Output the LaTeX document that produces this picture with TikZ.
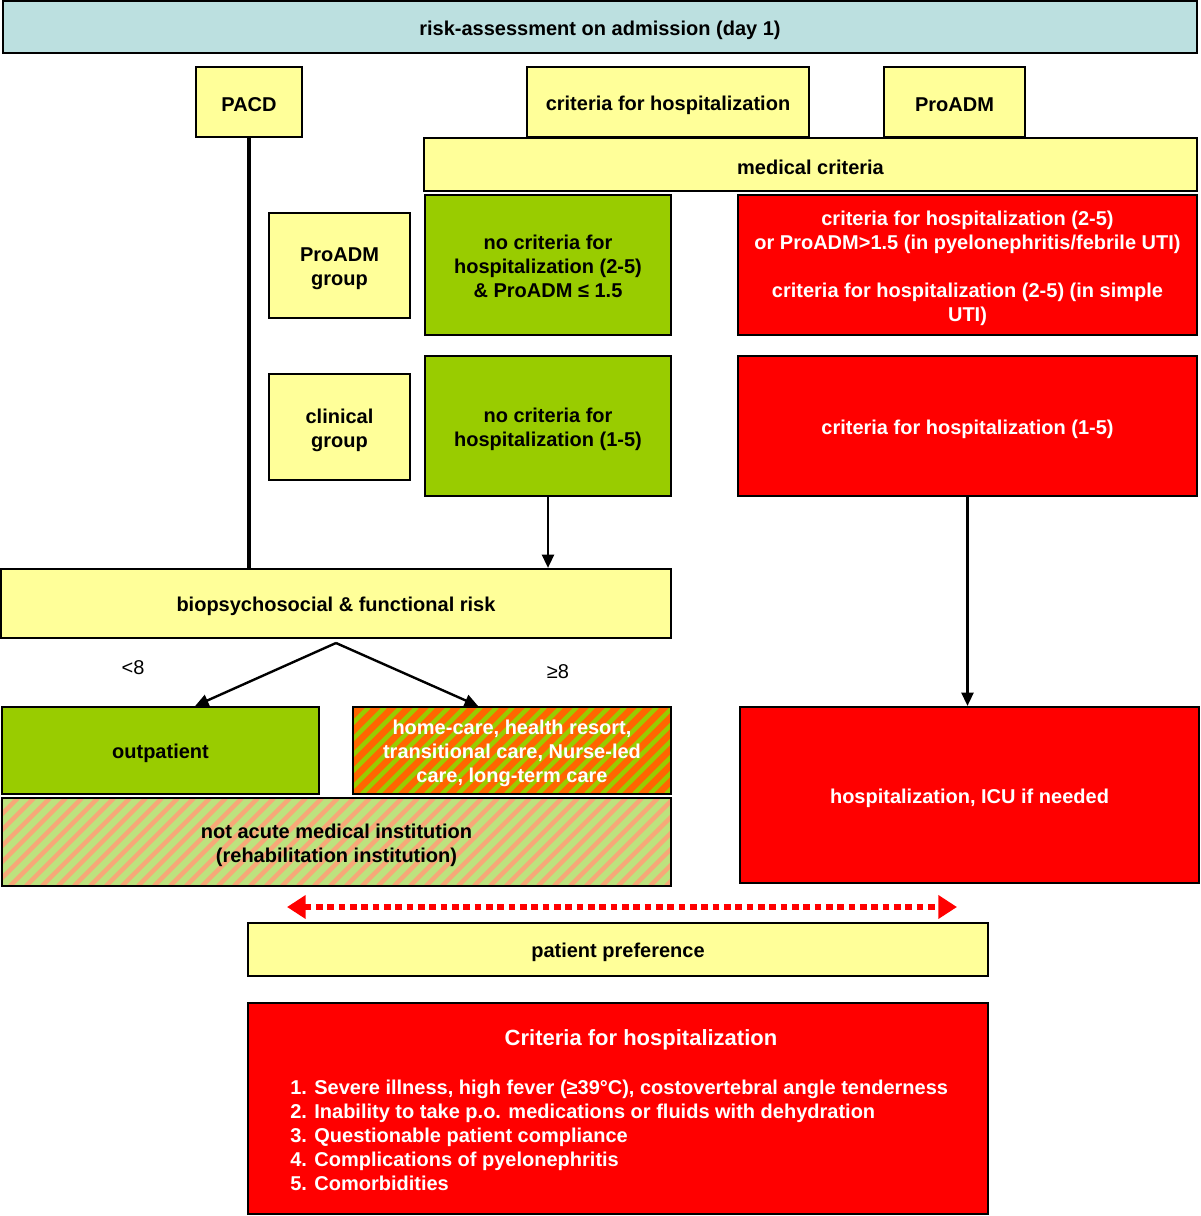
\documentclass[tikz,border=0pt]{standalone}
\usepackage{fontspec}
\setmainfont{Liberation Sans}
\usetikzlibrary{arrows.meta,calc}
\definecolor{cyanbg}{HTML}{BCE0E0}
\definecolor{ylw}{HTML}{FFFF99}
\definecolor{grn}{HTML}{99CC00}
\definecolor{rd}{HTML}{FF0000}
\definecolor{orng}{HTML}{FF6600}
\definecolor{lgrn}{HTML}{BDE27E}
\definecolor{salmon}{HTML}{F7A878}
\tikzset{
  box/.style={draw=black, line width=1.6pt},
  ybox/.style={box, fill=ylw},
  cbox/.style={box, fill=cyanbg},
  gbox/.style={box, fill=grn},
  rbox/.style={box, fill=rd},
  hbox/.style={box, fill=none},
  txt/.style={align=center, inner sep=0pt, text=black,
    font=\fontsize{15}{18}\selectfont\bfseries},
  wtxt/.style={txt, text=white},
  arr/.style={line width=1.8pt, -{Triangle[length=10pt,width=9pt]}},
  lbl/.style={font=\fontsize{15}{18}\selectfont, inner sep=0pt},
  dotarr/.style={rd, line width=4.5pt, dash pattern=on 5pt off 3.5pt,
    {Triangle[length=14pt,width=17pt]}-{Triangle[length=14pt,width=17pt]}},
}
% #1 name, #2-#5 corners (px), #6 box style, #7 text style, #8 text
\newcommand\bx[8]{%
  \node[#6, minimum width={(#4-#2)*0.75pt}, minimum height={(#5-#3)*0.75pt}] (#1) at ({(#2+#4)/2},{(#3+#5)/2}) {};
  \node[#7] (#1-t) at ([yshift=-2.2pt]#1.center) {#8};}
\begin{document}
\begin{tikzpicture}[x=0.75pt, y=-0.75pt]
\useasboundingbox (0,0) rectangle (1200,1216);
% top
\bx{risk}{3}{1}{1197}{53}{cbox}{txt}{risk-assessment on admission (day 1)}
\bx{pacd}{196}{67}{302}{137}{ybox}{txt}{PACD}
\bx{crith}{527}{67}{809}{137}{ybox}{txt}{criteria for hospitalization}
\bx{proadm}{884}{67}{1025}{137}{ybox}{txt}{ProADM}
\bx{med}{424}{138}{1197}{191}{ybox}{txt}{medical criteria}
% groups
\bx{pgroup}{269}{213}{410}{318}{ybox}{txt}{ProADM\\group}
\bx{cgroup}{269}{374}{410}{480}{ybox}{txt}{clinical\\group}
\bx{g1}{425}{195}{671}{335}{gbox}{txt, yshift=1.2pt}{no criteria for\\hospitalization (2-5)\\\& ProADM ≤ 1.5}
\bx{g2}{425}{356}{671}{496}{gbox}{txt}{no criteria for\\hospitalization (1-5)}
\bx{r1}{738}{195}{1197}{335}{rbox}{wtxt}{criteria for hospitalization (2-5)\\or ProADM>1.5 (in pyelonephritis/febrile UTI)\\[18pt]criteria for hospitalization (2-5) (in simple\\UTI)}
\bx{r2}{738}{356}{1197}{496}{rbox}{wtxt}{criteria for hospitalization (1-5)}
% biopsychosocial
\bx{bio}{1}{569}{671}{638}{ybox}{txt}{biopsychosocial \& functional risk}
\bx{outp}{2}{707}{319}{794}{gbox}{txt}{outpatient}
% hatched home-care box
\fill[orng] (353,707) rectangle (671,794);
\begin{scope}
  \clip (353,707) rectangle (671,794);
  \foreach \i in {0,...,30} {\draw[grn, line width=3.3pt] ({353-87+\i*16},794) -- ++(87,-87);}
\end{scope}
\bx{home}{353}{707}{671}{794}{hbox}{wtxt}{home-care, health resort,\\transitional care, Nurse-led\\care, long-term care}
% hatched rehabilitation box
\fill[lgrn] (2,798) rectangle (671,886);
\begin{scope}
  \clip (2,798) rectangle (671,886);
  \foreach \i in {0,...,50} {\draw[salmon, line width=3.3pt] ({2-88+\i*16},886) -- ++(88,-88);}
\end{scope}
\bx{rehab}{2}{798}{671}{886}{hbox}{txt}{not acute medical institution\\(rehabilitation institution)}
\bx{hosp}{740}{707}{1199}{883}{rbox}{wtxt}{hospitalization, ICU if needed}
% preference
\bx{pref}{248}{923}{988}{976}{ybox}{txt}{patient preference}
\node[rbox, minimum width={740*0.75pt}, minimum height={211*0.75pt}] (crit) at (618,1108.5) {};
\node[font=\fontsize{16.5}{20}\selectfont\bfseries, text=white, inner sep=0pt] (critt) at (641,1040) {Criteria for hospitalization};
\node[font=\fontsize{15}{18}\selectfont\bfseries, text=white, inner sep=0pt, anchor=west, align=left] (critl) at (290,1135) {1. Severe illness, high fever (≥39°C), costovertebral angle tenderness\\2. Inability to take p.o. medications or fluids with dehydration\\3. Questionable patient compliance\\4. Complications of pyelonephritis\\5. Comorbidities};
% labels
\node[lbl] (lt8) at (133,668) {<8};
\node[lbl] (ge8) at (558,672) {≥8};
% connectors
\draw[line width=2.6pt] (pacd.south) -- (pacd.south |- bio.north);
\draw[arr] (g2.south) -- (g2.south |- bio.north);
\draw[arr] (r2.south) -- (r2.south |- hosp.north);
\coordinate (fork) at (336,643);
\draw[arr] (fork) -- ([xshift=26pt]outp.north);
\draw[arr] (fork) -- ([xshift=-25.5pt]home.north);
\coordinate (da) at (287,907);
\coordinate (db) at (957,907);
\draw[dotarr] (da) -- (db);
\end{tikzpicture}
\end{document}
